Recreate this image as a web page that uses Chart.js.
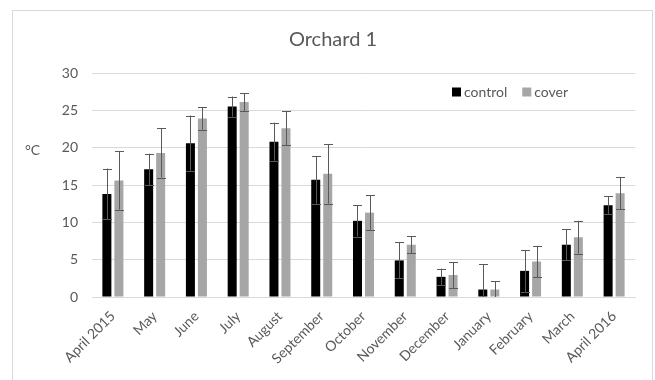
<!DOCTYPE html>
<html>
<head>
<meta charset="utf-8">
<script src="https://cdn.jsdelivr.net/npm/chart.js@4"></script>
<style>
  body { margin: 0; background: #fff; }
</style>
</head>
<body>
<canvas id="chart" width="655" height="380"></canvas>
<script>
// Monthly mean temperature, Orchard 1
var months = ["April 2015", "May", "June", "July", "August", "September", "October",
    "November", "December", "January", "February", "March", "April 2016"];
var control = [13.8, 17.1, 20.6, 25.5, 20.8, 15.7, 10.2, 4.9, 2.7, 1.0, 3.5, 7.0, 12.3];
var controlErr = [3.4, 2.1, 3.7, 1.35, 2.55, 3.2, 2.1, 2.4, 1.1, 3.4, 2.8, 2.1, 1.2];
var cover = [15.6, 19.3, 23.9, 26.1, 22.6, 16.5, 11.3, 7.0, 2.95, 1.0, 4.75, 8.0, 13.9];
var coverErr = [3.9, 3.3, 1.5, 1.2, 2.3, 4.0, 2.3, 1.15, 1.75, 1.1, 2.1, 2.2, 2.15];
var yTicks = [0, 5, 10, 15, 20, 25, 30];

var textColor = "#595959";
var fontFamily = "Lato, 'Open Sans', sans-serif";

// error bars, border, title, axis unit and legend are drawn here
var extras = {
    id: "extras",
    afterDatasetsDraw: function (chart) {
        var ctx = chart.ctx;
        var y = chart.scales.y;
        var area = chart.chartArea;
        var errs = [controlErr, coverErr];
        ctx.save();
        ctx.beginPath();
        ctx.rect(area.left, area.top - 20, area.right - area.left, area.bottom - area.top + 20);
        ctx.clip();
        ctx.strokeStyle = "#595959";
        ctx.lineWidth = 1;
        chart.data.datasets.forEach(function (ds, i) {
            chart.getDatasetMeta(i).data.forEach(function (bar, j) {
                var v = ds.data[j], e = errs[i][j];
                var x = Math.round(bar.x) + 0.5;
                var top = y.getPixelForValue(v + e);
                var bot = y.getPixelForValue(v - e);
                ctx.beginPath();
                ctx.moveTo(x, top);
                ctx.lineTo(x, bot);
                ctx.moveTo(x - 4.5, Math.round(top) + 0.5);
                ctx.lineTo(x + 4.5, Math.round(top) + 0.5);
                ctx.moveTo(x - 4.5, Math.round(bot) + 0.5);
                ctx.lineTo(x + 4.5, Math.round(bot) + 0.5);
                ctx.stroke();
            });
        });
        ctx.restore();
    },
    afterDraw: function (chart) {
        var ctx = chart.ctx;
        ctx.save();
        ctx.strokeStyle = "#d9d9d9";
        ctx.lineWidth = 1;
        ctx.strokeRect(12.5, 10.5, 640, 400);

        ctx.fillStyle = textColor;
        ctx.textBaseline = "middle";
        ctx.textAlign = "center";
        ctx.font = "20px " + fontFamily;
        ctx.fillText("Orchard 1", 333, 40);

        ctx.font = "14px " + fontFamily;
        ctx.textAlign = "left";
        ctx.fillText("°C", 25, 150);

        ctx.font = "14px " + fontFamily;
        var lx = 452, ly = 92;
        chart.data.datasets.forEach(function (ds) {
            ctx.fillStyle = ds.backgroundColor;
            ctx.fillRect(lx, ly - 4.5, 9, 9);
            ctx.fillStyle = textColor;
            ctx.fillText(ds.label, lx + 12, ly);
            lx += 12 + ctx.measureText(ds.label).width + 15;
        });
        ctx.restore();
    }
};

new Chart(document.getElementById("chart"), {
    type: "bar",
    data: {
        labels: months,
        datasets: [
            { label: "control", data: control, backgroundColor: "#000000" },
            { label: "cover", data: cover, backgroundColor: "#a6a6a6" }
        ]
    },
    options: {
        responsive: false,
        animation: false,
        categoryPercentage: 0.575,
        barPercentage: 0.75,
        layout: { padding: { top: 73, right: 20, left: 0, bottom: 0 } },
        plugins: {
            legend: { display: false },
            title: { display: false },
            tooltip: { enabled: false }
        },
        scales: {
            x: {
                grid: { display: false },
                border: { color: "#d9d9d9" },
                ticks: {
                    color: textColor,
                    font: { family: fontFamily, size: 14 },
                    maxRotation: 45,
                    minRotation: 45,
                    autoSkip: false,
                    padding: 3
                },
                afterFit: function (scale) { scale.height = 83; }
            },
            y: {
                min: 0,
                max: 30,
                afterBuildTicks: function (scale) {
                    scale.ticks = yTicks.map(function (v) { return { value: v }; });
                },
                grid: { color: "#d9d9d9", drawTicks: false },
                border: { display: false },
                ticks: {
                    color: textColor,
                    font: { family: fontFamily, size: 14 },
                    padding: 14
                },
                afterFit: function (scale) { scale.width = 92; }
            }
        }
    },
    plugins: [extras]
});
</script>
</body>
</html>
